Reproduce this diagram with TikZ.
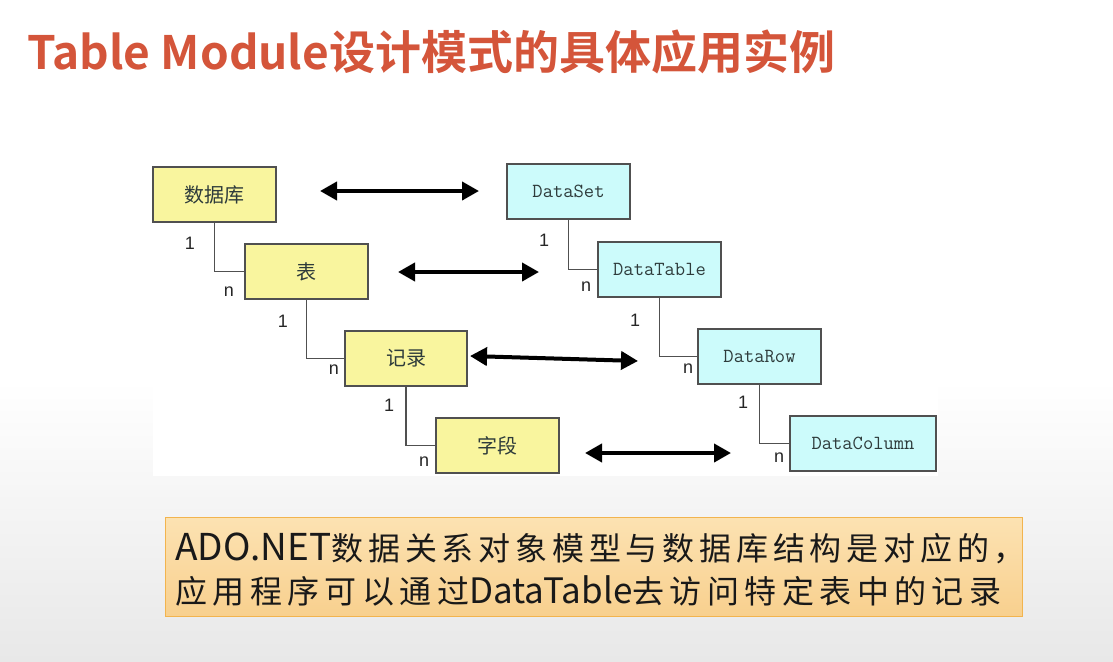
\documentclass[tikz,border=0pt]{standalone}
\usepackage{fontspec}
\usetikzlibrary{arrows.meta,positioning}
\newfontfamily\cjk{Noto Sans CJK SC}
\newfontfamily\cjkbold{Noto Sans CJK SC Bold}
\newfontfamily\cjkairy[LetterSpace=15]{Noto Sans CJK SC}
\newfontfamily\cjkairier[LetterSpace=17]{Noto Sans CJK SC}
\newfontfamily\labelfont{Liberation Sans}
\definecolor{titlered}{HTML}{D4553A}
\definecolor{boxyellow}{HTML}{F9F59E}
\definecolor{boxcyan}{HTML}{CCFBFB}
\definecolor{boxedge}{HTML}{505050}
\definecolor{noteedge}{HTML}{F2B44E}
\definecolor{notetop}{HTML}{FCE2B2}
\definecolor{notebot}{HTML}{F8D08E}
\definecolor{ink}{HTML}{2E3B3B}
\newcommand{\latinpart}[2][35]{{\cjk\fontsize{#1}{38}\selectfont #2}}
\tikzset{
  entity/.style={draw=boxedge, line width=1.3pt, minimum width=123pt, minimum height=55pt, inner sep=0pt},
  dbbox/.style={entity, fill=boxyellow, font=\cjk\fontsize{20}{24}\selectfont, text=ink},
  adobox/.style={entity, fill=boxcyan, font=\ttfamily\fontsize{20}{24}\selectfont, text=ink},
  link/.style={draw=boxedge, line width=1.2pt},
  mult/.style={font=\labelfont\fontsize{18}{22}\selectfont, text=black!85, inner sep=0pt},
  maps/.style={line width=4pt, {Triangle[length=17pt,width=18pt]}-{Triangle[length=17pt,width=18pt]}},
  notetext/.style={anchor=base west, inner sep=0pt, text=black!90}
}
\begin{document}
\begin{tikzpicture}[x=1pt,y=-1pt]
  % page and faint grey fade towards the bottom
  \useasboundingbox (0,0) rectangle (1113,661);
  \fill[white] (0,0) rectangle (1113,661);
  \shade[top color=white, bottom color=black!9] (0,380) rectangle (1113,661);
  \fill[white] (153,150) rectangle (938,476);

  % heading
  \node[anchor=base west, inner sep=0pt, text=titlered, font=\cjkbold\fontsize{46}{50}\selectfont]
    (title) at (27,70) {Table Module设计模式的具体应用实例};

  % database side
  \node[dbbox] (db)  at (214.5,194.5) {数据库};
  \node[dbbox] (tbl) at (306.5,271.5) {表};
  \node[dbbox, minimum width=122pt] (rec) at (406,358.5) {记录};
  \node[dbbox] (fld) at (497.5,445.5) {字段};

  % ADO.NET side
  \node[adobox] (ds)  at (568.5,191.5) {DataSet};
  \node[adobox] (dt)  at (659.5,269.5) {DataTable};
  \node[adobox] (dr)  at (759.5,356.5) {DataRow};
  \node[adobox, minimum width=146pt] (dc) at (863,443.5) {DataColumn};

  % one-to-many links
  \draw[link] (db.south)  |- (tbl.west);
  \draw[link] (tbl.south) |- (rec.west);
  \draw[link] (rec.south) |- (fld.west);
  \draw[link] (ds.south)  |- (dt.west);
  \draw[link] (dt.south)  |- (dr.west);
  \draw[link] (dr.south)  |- (dc.west);

  % multiplicities
  \node[mult] (m1a) at (190,243) {1};
  \node[mult] (m1b) at (229,292) {n};
  \node[mult] (m2a) at (283,321) {1};
  \node[mult] (m2b) at (334,370) {n};
  \node[mult] (m3a) at (389,405) {1};
  \node[mult] (m3b) at (424,462) {n};
  \node[mult] (m4a) at (544,240) {1};
  \node[mult] (m4b) at (586,287) {n};
  \node[mult] (m5a) at (635,320) {1};
  \node[mult] (m5b) at (688,369) {n};
  \node[mult] (m6a) at (743,402) {1};
  \node[mult] (m6b) at (779,458) {n};

  % correspondence arrows
  \coordinate (a1l) at (320,191);  \coordinate (a1r) at (479,191);
  \coordinate (a2l) at (398,272);  \coordinate (a2r) at (539,272);
  \coordinate (a3l) at (470,356);  \coordinate (a3r) at (638,361);
  \coordinate (a4l) at (585,453);  \coordinate (a4r) at (731,453);
  \draw[maps] (a1l) -- (a1r);
  \draw[maps] (a2l) -- (a2r);
  \draw[maps] (a3l) -- (a3r);
  \draw[maps] (a4l) -- (a4r);

  % note
  \node[draw=noteedge, line width=1pt, top color=notetop, bottom color=notebot,
        minimum width=857pt, minimum height=99pt, anchor=north west, inner sep=0pt]
    (note) at (165,517) {};
  \node[notetext] (line1) at (175,560)
    {\latinpart[37]{ADO.NET}{\cjkairy\fontsize{32}{38}\selectfont 数据关系对象模型与数据库结构是对应的，}};
  \node[notetext] (line2) at (175,603)
    {{\cjkairier\fontsize{32}{38}\selectfont 应用程序可以通过}\latinpart{DataTable}{\cjkairier\fontsize{32}{38}\selectfont 去访问特定表中的记录}};
\end{tikzpicture}
\end{document}
